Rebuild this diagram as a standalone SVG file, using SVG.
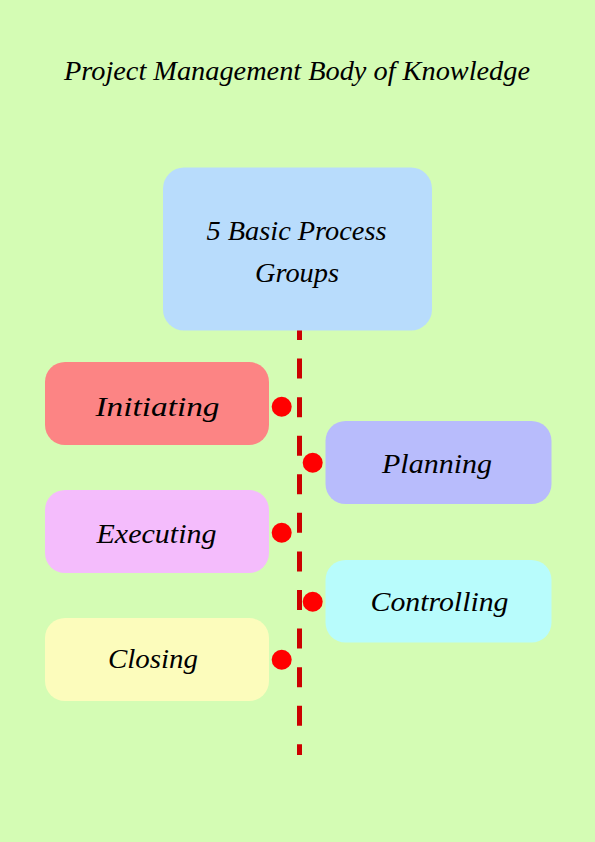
<svg xmlns="http://www.w3.org/2000/svg" width="595" height="842" viewBox="0 0 595 842">
<style>
.lbl{font-family:"Liberation Serif","DejaVu Serif",serif;font-style:italic;font-size:28px;fill:#000;text-anchor:middle;dominant-baseline:central}
.title{font-family:"Liberation Serif","DejaVu Serif",serif;font-style:italic;font-size:27px;fill:#000;text-anchor:middle;dominant-baseline:central}
.dot{fill:#ff0000}
</style>
<rect x="0" y="0" width="595" height="842" fill="#d4fcb4"/>
<text class="title" x="297" y="71" textLength="466" lengthAdjust="spacingAndGlyphs">Project Management Body of Knowledge</text>
<g id="connectors">
<line x1="299.5" y1="320" x2="299.5" y2="755" stroke="#cc0000" stroke-width="5" stroke-dasharray="20 18.57"/>
<circle class="dot" cx="281.7" cy="406.7" r="10"/>
<circle class="dot" cx="312.7" cy="462.7" r="10"/>
<circle class="dot" cx="281.7" cy="532.7" r="10"/>
<circle class="dot" cx="312.7" cy="601.7" r="10"/>
<circle class="dot" cx="281.7" cy="659.7" r="10"/>
</g>
<g id="root">
<rect x="163" y="167.5" width="269" height="163" rx="21" fill="#b8dcfc"/>
<text class="lbl" x="296.5" y="230" textLength="180" lengthAdjust="spacingAndGlyphs">5 Basic Process</text>
<text class="lbl" x="297" y="272" textLength="84" lengthAdjust="spacingAndGlyphs">Groups</text>
</g>
<g id="initiating">
<rect x="45" y="362" width="224" height="83" rx="20" fill="#fc8484"/>
<text class="lbl" x="157.5" y="406" textLength="124" lengthAdjust="spacingAndGlyphs">Initiating</text>
</g>
<g id="planning">
<rect x="325.5" y="421" width="226" height="83" rx="20" fill="#b8bcfc"/>
<text class="lbl" x="437" y="463" textLength="110" lengthAdjust="spacingAndGlyphs">Planning</text>
</g>
<g id="executing">
<rect x="45" y="490" width="224" height="83" rx="20" fill="#f4bcfc"/>
<text class="lbl" x="156.5" y="533" textLength="120" lengthAdjust="spacingAndGlyphs">Executing</text>
</g>
<g id="controlling">
<rect x="325.5" y="560" width="226" height="82.5" rx="20" fill="#b8fcfc"/>
<text class="lbl" x="439.5" y="601" textLength="138" lengthAdjust="spacingAndGlyphs">Controlling</text>
</g>
<g id="closing">
<rect x="45" y="618" width="224" height="83" rx="20" fill="#fcfcbc"/>
<text class="lbl" x="153" y="658" textLength="90" lengthAdjust="spacingAndGlyphs">Closing</text>
</g>
</svg>
